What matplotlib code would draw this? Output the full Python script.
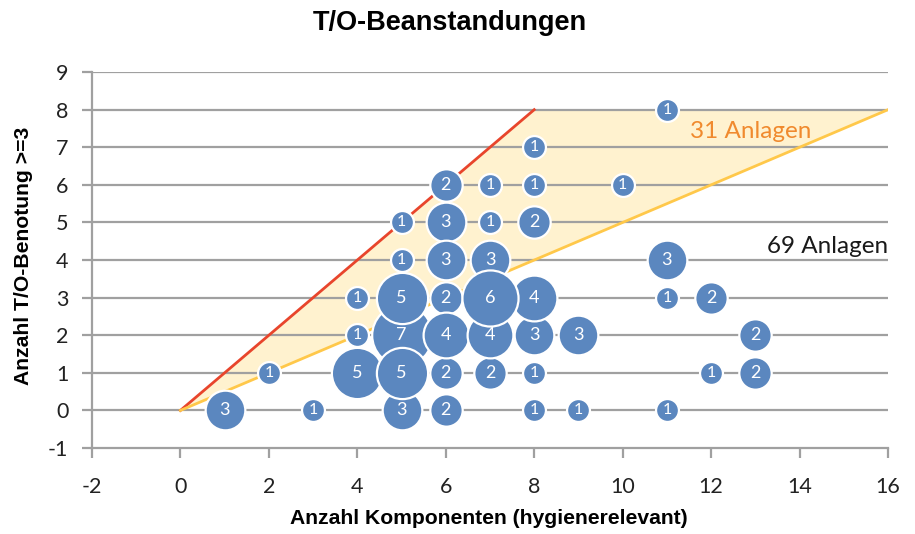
import matplotlib
matplotlib.use("Agg")
import matplotlib.pyplot as plt
import numpy as np

plt.rcParams["axes.unicode_minus"] = False

# Data: components (x), T/O ratings >=3 (y), number of plants (bubble size)
comp = [11, 8, 6, 7, 8, 10, 5, 6, 7, 8, 5, 6, 7, 11,
        4, 5, 6, 7, 8, 11, 12,
        4, 5, 6, 7, 8, 9, 13,
        2, 4, 5, 6, 7, 8, 12, 13,
        1, 3, 5, 6, 8, 9, 11]
ratings = [8, 7, 6, 6, 6, 6, 5, 5, 5, 5, 4, 4, 4, 4,
           3, 3, 3, 3, 3, 3, 3,
           2, 2, 2, 2, 2, 2, 2,
           1, 1, 1, 1, 1, 1, 1, 1,
           0, 0, 0, 0, 0, 0, 0]
counts = [1, 1, 2, 1, 1, 1, 1, 3, 1, 2, 1, 3, 3, 3,
          1, 5, 2, 6, 4, 1, 2,
          1, 7, 4, 4, 3, 3, 2,
          1, 5, 5, 2, 2, 1, 1, 2,
          3, 1, 3, 2, 1, 1, 1]

region_x = [0, 8, 16]
region_y = [0, 8, 8]
label_31 = "31 Anlagen"
label_69 = "69 Anlagen"

xticks = list(range(-2, 17, 2))
yticks = list(range(-1, 10))

fig = plt.figure(figsize=(9.15, 5.34), dpi=100)
ax = fig.add_axes([0.1005, 0.161, 0.8700, 0.704])
ax.set_xlim(-2, 16)
ax.set_ylim(-1, 9)

grid_col = "#A0A0A0"
for yv in yticks[1:]:
    ax.axhline(yv, color=grid_col, lw=1.6, zorder=1)

# shaded area
ax.fill(region_x, region_y, color="#FFF2CF", zorder=0.5, lw=0)
ax.plot([region_x[0], region_x[1]], [region_y[0], region_y[1]], color="#E8452C", lw=2, zorder=2)
ax.plot([region_x[0], region_x[2]], [region_y[0], region_y[2]], color="#FFC84A", lw=2, zorder=2)

# bubbles: draw largest (7) first, then ascending
order = sorted(range(len(counts)), key=lambda i: (counts[i] != max(counts), counts[i]))
for k, i in enumerate(order):
    ax.scatter(comp[i], ratings[i], s=272 * counts[i], color="#5B87BF",
               edgecolor="white", linewidth=1.6, zorder=3 + k * 0.01)
    ax.text(comp[i], ratings[i], str(counts[i]), color="white", ha="center", va="center",
            fontsize=13 if counts[i] > 1 else 11.5, family="Lato", zorder=3 + k * 0.01 + 0.005)

ax.text(11.53, 7.26, label_31, color="#F08A2E", fontsize=17.5, family="Lato", ha="left", va="baseline")
ax.text(16, 4.20, label_69, color="#1A1A1A", fontsize=17.5, family="Lato", ha="right", va="baseline")

for s in ["top", "right"]:
    ax.spines[s].set_visible(False)
for s in ["left", "bottom"]:
    ax.spines[s].set_color(grid_col)
    ax.spines[s].set_linewidth(1.6)

ax.set_xticks(xticks)
ax.set_yticks(yticks)
ax.tick_params(axis="both", colors=grid_col, length=7, width=1.6, labelsize=15.5, labelcolor="#222222")
ax.tick_params(axis="y", pad=10)
ax.tick_params(axis="x", pad=14)
for lab in ax.get_xticklabels() + ax.get_yticklabels():
    lab.set_family("Lato")

ax.set_xlabel("Anzahl Komponenten (hygienerelevant)", fontsize=15.2, fontweight="bold",
              family="Liberation Sans")
ax.xaxis.set_label_coords(0.4985, -0.163)
ax.set_ylabel("Anzahl T/O-Benotung >=3", fontsize=15.2, fontweight="bold",
              family="Liberation Sans")
ax.yaxis.set_label_coords(-0.074, 0.51)
fig.text(0.492, 0.957, "T/O-Beanstandungen", ha="center", va="center", fontsize=19.5,
         fontweight="bold", family="Liberation Sans")

fig.savefig("out.png", dpi=100)
